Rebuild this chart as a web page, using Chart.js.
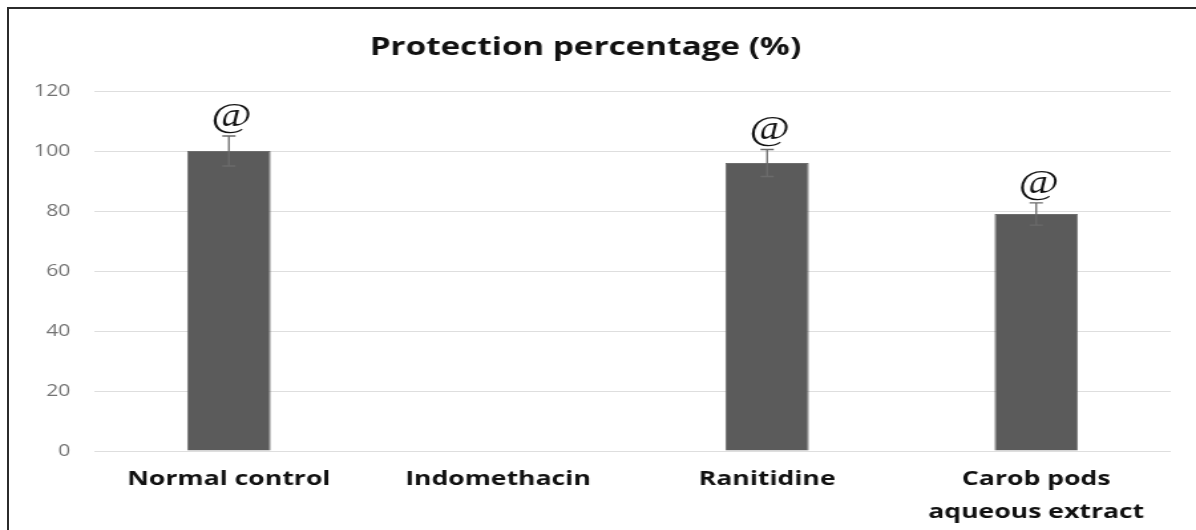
<!DOCTYPE html>
<html>
<head>
<meta charset="utf-8">
<script src="https://cdn.jsdelivr.net/npm/chart.js@4.4.1/dist/chart.umd.min.js"></script>
<style>
  html, body { margin: 0; padding: 0; width: 1196px; height: 530px; overflow: hidden; background: #fff; }
  #frame { position: absolute; left: 7px; top: 7px; width: 1400px; height: 800px; border: 2px solid #2b2b2b; box-sizing: border-box; }
  /* the figure is laid out at 900px and widened to the full 1196px */
  #wrap { position: absolute; left: 0; top: 0; width: 900px; height: 530px; transform: scaleX(1.3289); transform-origin: 0 0; }
</style>
</head>
<body>
<div id="frame"></div>
<div id="wrap"><canvas id="chart" width="900" height="530"></canvas></div>
<script>
// Groups and measured protection (%)
const categories = ['Normal control', 'Indomethacin', 'Ranitidine', ['Carob pods', 'aqueous extract']];
const protection = [100, 0, 96, 79];
const errors = [5, 0, 4.5, 3.7];
const marks = ['@', '', '@', '@'];
const yTicks = [0, 20, 40, 60, 80, 100, 120];

// Draws the ± error bars and the significance marks above them
const errorBarPlugin = {
  id: 'errorBars',
  afterDatasetsDraw(chart) {
    const { ctx, scales: { y } } = chart;
    const meta = chart.getDatasetMeta(0);
    ctx.save();
    meta.data.forEach((bar, i) => {
      const v = protection[i];
      const e = errors[i];
      if (!e) return;
      const cx = bar.x;
      const top = y.getPixelForValue(v + e);
      const bottom = y.getPixelForValue(v - e);
      ctx.strokeStyle = '#6b6b6b';
      ctx.lineWidth = 1.3;
      ctx.beginPath();
      ctx.moveTo(cx, top); ctx.lineTo(cx, bottom);
      ctx.moveTo(cx - 5, top); ctx.lineTo(cx + 5, top);
      ctx.moveTo(cx - 5, bottom); ctx.lineTo(cx + 5, bottom);
      ctx.stroke();
      if (marks[i]) {
        ctx.fillStyle = '#111';
        ctx.font = '33px "Liberation Serif", serif';
        ctx.textAlign = 'center';
        ctx.textBaseline = 'middle';
        ctx.fillText(marks[i], cx + 2, top - 19);
      }
    });
    ctx.restore();
  }
};

new Chart(document.getElementById('chart'), {
  type: 'bar',
  data: {
    labels: categories,
    datasets: [{
      data: protection,
      backgroundColor: '#5b5b5b',
      borderColor: '#6e6e6e',
      borderWidth: 1,
      barPercentage: 0.31,
      categoryPercentage: 1.0
    }]
  },
  options: {
    responsive: false,
    animation: false,
    devicePixelRatio: 1,
    layout: { padding: { left: 0, right: 19, top: 0, bottom: 0 } },
    plugins: {
      legend: { display: false },
      tooltip: { enabled: false },
      title: {
        display: true,
        text: 'Protection percentage (%)',
        color: '#111',
        font: { family: '"Open Sans", sans-serif', size: 25, weight: 'bold' },
        padding: { top: 33, bottom: 28 }
      }
    },
    scales: {
      x: {
        grid: { display: false, drawTicks: false },
        border: { display: false },
        ticks: {
          color: '#111',
          padding: 12,
          maxRotation: 0,
          autoSkip: false,
          font: { family: '"Open Sans", sans-serif', size: 20, weight: 'bold', lineHeight: 1.65 }
        },
        afterFit(scale) { scale.height = 79; }
      },
      y: {
        min: 0,
        max: 120,
        afterBuildTicks(scale) { scale.ticks = yTicks.map(v => ({ value: v })); },
        grid: { color: '#dedede', lineWidth: 1, drawTicks: false },
        border: { display: false },
        ticks: {
          color: '#737373',
          padding: 18,
          font: { family: '"Open Sans", sans-serif', size: 16 }
        },
        afterFit(scale) { scale.width = 71; }
      }
    }
  },
  plugins: [errorBarPlugin]
});
</script>
</body>
</html>
